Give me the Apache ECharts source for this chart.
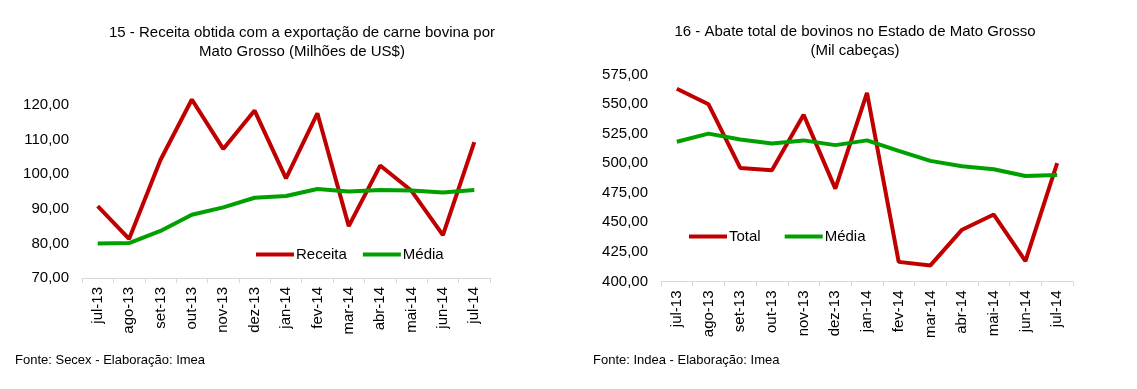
<!DOCTYPE html>
<html>
<head>
<meta charset="utf-8">
<script src="https://cdn.jsdelivr.net/npm/echarts@6/dist/echarts.min.js"></script>
<style>
html,body{margin:0;padding:0;background:#fff;}
#c{width:1137px;height:389px;}
</style>
</head>
<body>
<div id="c"></div>
<script>
const categories = ['jul-13','ago-13','set-13','out-13','nov-13','dez-13','jan-14','fev-14','mar-14','abr-14','mai-14','jun-14','jul-14'];
const receita = [90.8, 81.3, 104.1, 121.6, 107.3, 118.4, 98.8, 117.6, 85.0, 102.5, 95.2, 82.4, 109.3];
const mediaReceita = [80.0, 80.1, 83.6, 88.3, 90.4, 93.2, 93.7, 95.7, 95.0, 95.4, 95.3, 94.7, 95.4];
const abateTotal = [563.0, 549.8, 496.0, 494.1, 541.0, 478.5, 559.5, 416.6, 413.6, 443.8, 456.6, 417.2, 500.0];
const mediaAbate = [518.1, 525.0, 520.1, 516.7, 519.3, 515.3, 519.3, 510.4, 502.0, 497.5, 494.9, 489.2, 490.0];
const leftAxis = {min: 70, max: 120, interval: 10};
const rightAxis = {min: 400, max: 575, interval: 25};
const titles = ['15 - Receita obtida com a exportação de carne bovina por\nMato Grosso (Milhões de US$)', '16 - Abate total de bovinos no Estado de Mato Grosso\n(Mil cabeças)'];
const sources = ['Fonte: Secex - Elaboração: Imea', 'Fonte: Indea - Elaboração: Imea'];

const FONT = '"Liberation Sans", Arial, sans-serif';
const RED = '#c00000', GREEN = '#00a000';
const fmt = v => v.toFixed(2).replace('.', ',');

function xAxis(gi){
  return {
    type: 'category', gridIndex: gi, data: categories, boundaryGap: true,
    axisLine: {lineStyle: {color: '#d9d9d9', width: 1}},
    axisTick: {show: true, length: 5, lineStyle: {color: '#d9d9d9'}},
    axisLabel: {rotate: 90, margin: 9, color: '#000', fontSize: 15, fontFamily: FONT, interval: 0}
  };
}
function yAxis(gi, ax){
  return {
    type: 'value', gridIndex: gi, min: ax.min, max: ax.max, interval: ax.interval,
    axisLine: {show: false}, axisTick: {show: false}, splitLine: {show: false},
    axisLabel: {formatter: fmt, color: '#000', fontSize: 15, fontFamily: FONT, margin: 13}
  };
}
function line(name, data, color, idx){
  return {
    name, type: 'line', data, xAxisIndex: idx, yAxisIndex: idx, symbol: 'none',
    clip: false, lineStyle: {color, width: 4}, itemStyle: {color}, animation: false
  };
}

const chart = echarts.init(document.getElementById('c'), null, {renderer: 'canvas'});
chart.setOption({
  animation: false,
  backgroundColor: '#fff',
  title: [
    {text: titles[0], left: 297, top: 18, textAlign: 'center',
     textStyle: {fontSize: 15, fontWeight: 'normal', color: '#000', fontFamily: FONT, lineHeight: 19}},
    {text: titles[1], left: 850, top: 17, textAlign: 'center',
     textStyle: {fontSize: 15, fontWeight: 'normal', color: '#000', fontFamily: FONT, lineHeight: 19}},
    {text: sources[0], left: 10, top: 349,
     textStyle: {fontSize: 13, fontWeight: 'normal', color: '#000', fontFamily: FONT}},
    {text: sources[1], left: 588, top: 349,
     textStyle: {fontSize: 13, fontWeight: 'normal', color: '#000', fontFamily: FONT}}
  ],
  legend: [
    {data: ['Receita', 'Média'], left: 251, top: 242, icon: 'rect', itemWidth: 38, itemHeight: 4,
     itemGap: 16, textStyle: {fontSize: 15, color: '#000', fontFamily: FONT, padding: [0,0,0,-3]}},
    {data: ['Total', 'Média'], left: 684, top: 224, icon: 'rect', itemWidth: 38, itemHeight: 4,
     itemGap: 24, textStyle: {fontSize: 15, color: '#000', fontFamily: FONT, padding: [0,0,0,-3]}}
  ],
  grid: [
    {left: 82, width: 408, top: 105, height: 173},
    {left: 661, width: 412, top: 74.5, height: 207}
  ],
  xAxis: [xAxis(0), xAxis(1)],
  yAxis: [yAxis(0, leftAxis), yAxis(1, rightAxis)],
  series: [
    line('Receita', receita, RED, 0),
    line('Média', mediaReceita, GREEN, 0),
    line('Total', abateTotal, RED, 1),
    line('Média', mediaAbate, GREEN, 1)
  ]
});
</script>
</body>
</html>
